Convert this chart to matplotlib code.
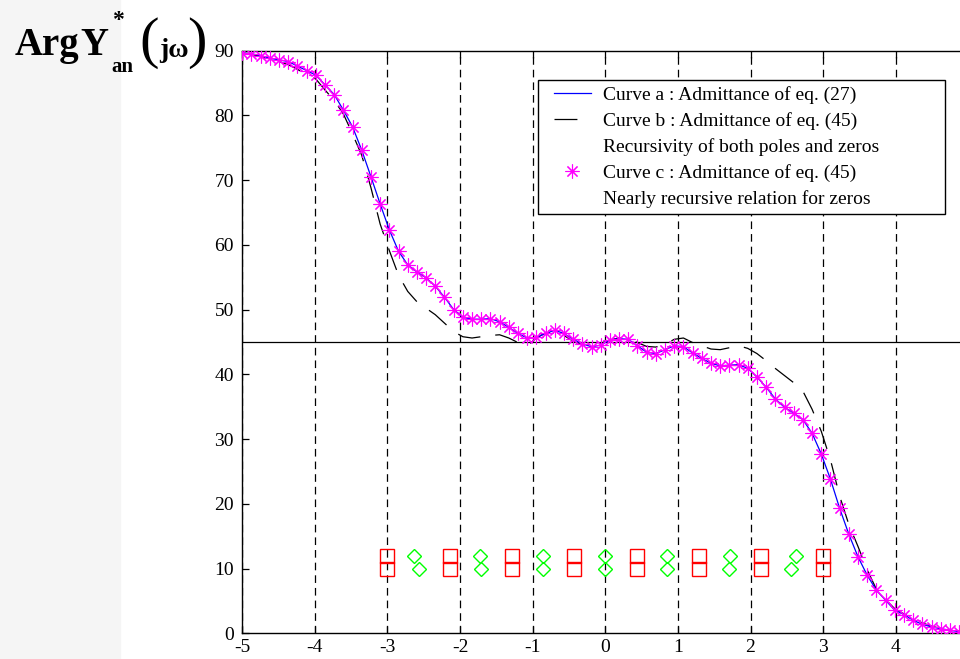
import numpy as np
import matplotlib
matplotlib.use("Agg")
import matplotlib.pyplot as plt
from matplotlib.lines import Line2D
from matplotlib.patches import Rectangle
from matplotlib.legend_handler import HandlerLine2D

plt.rcParams["font.family"] = ["Liberation Serif", "DejaVu Serif"]
plt.rcParams["lines.scale_dashes"] = False
plt.rcParams["axes.unicode_minus"] = False

# ---- data (80 samples from -5 to 5) ----
curve_a = [89.6, 89.5, 89.2, 88.8, 88.55, 88.3, 87.6, 86.9, 86.2, 84.7,
           83.2, 80.8, 78.2, 74.6, 70.5, 66.3, 62.3, 59.0, 56.9, 55.8,
           54.9, 53.6, 51.9, 50.0, 48.8, 48.5, 48.5, 48.6, 48.1, 47.25,
           46.3, 45.6, 45.7, 46.3, 46.8, 46.3, 45.4, 44.7, 44.25, 44.5,
           45.3, 45.5, 45.4, 44.4, 43.4, 43.2, 43.8, 44.4, 44.25, 43.3,
           42.45, 41.7, 41.3, 41.4, 41.5, 40.9, 39.6, 38.0, 36.2, 34.9,
           34.0, 33.0, 30.9, 27.7, 23.8, 19.3, 15.3, 11.8, 8.96, 6.65,
           5.1, 3.55, 2.9, 2.0, 1.4, 0.97, 0.72, 0.46, 0.26, 0.15]
curve_c = curve_a  # markers sit on curve a
curve_b = [89.6, 89.4, 89.1, 88.7, 88.3, 87.8, 87.1, 86.2, 85.6, 83.9,
           82.3, 80.2, 77.1, 73.8, 68.8, 63.2, 59.1, 55.3, 52.8, 51.2,
           50.2, 49.2, 47.9, 46.6, 45.8, 45.6, 45.8, 46.0, 46.1, 45.6,
           44.9, 44.4, 45.6, 46.4, 46.5, 46.0, 45.1, 44.5, 44.4, 44.8,
           45.3, 45.6, 45.5, 44.9, 44.3, 44.2, 44.6, 45.4, 45.6, 44.9,
           44.4, 43.9, 43.8, 44.1, 44.4, 44.0, 43.2, 42.1, 40.9, 39.8,
           38.7, 37.4, 34.6, 31.2, 26.8, 21.2, 16.8, 13.4, 9.8, 6.8,
           5.2, 3.8, 3.0, 2.3, 1.6, 1.1, 0.75, 0.5, 0.3, 0.2]
x_samples = np.linspace(-5, 5, len(curve_a))

poles_x = [-3.0, -2.14, -1.29, -0.43, 0.43, 1.29, 2.14, 3.0]
zeros_x_upper = [-2.63, -1.73, -0.86, 0.0, 0.85, 1.72, 2.63]
zeros_x_lower = [-2.56, -1.71, -0.86, 0.0, 0.85, 1.70, 2.56]
marker_y_low, marker_y_high = 10, 12
ref_level = 45

labels = ["Curve a : Admittance of eq. (27)",
          "Curve b : Admittance of eq. (45)",
          "Recursivity of both poles and zeros",
          "Curve c : Admittance of eq. (45)",
          "Nearly recursive relation for zeros"]

W, H = 960, 659
fig = plt.figure(figsize=(W / 100, H / 100), dpi=100)
fig.patches.append(Rectangle((0, 0), 120 / W, 1, transform=fig.transFigure,
                             color="#f5f5f5", zorder=0))

ax = fig.add_axes([242.3 / W, (H - 633.3) / H, 726 / W, 582.8 / H])

star = (8, 2, 0)
dash_b = (0, (16.5, 10.8))
ax.plot(x_samples, curve_a, color="#0000ff", lw=0.9, zorder=3)
ax.plot(x_samples, curve_b, color="k", lw=0.9, ls=dash_b, zorder=2)
ax.plot(x_samples, curve_c, ls="none", marker=star, ms=10, mew=0.8,
        color="#ff00ff", zorder=4)
ax.axhline(ref_level, color="k", lw=0.9, zorder=2)

ax.plot(poles_x, [marker_y_high] * len(poles_x), ls="none", marker="s", ms=9.6,
        mfc="none", mec="#ff0000", mew=1.0, zorder=3)
ax.plot(poles_x, [marker_y_low] * len(poles_x), ls="none", marker="s", ms=9.6,
        mfc="none", mec="#ff0000", mew=1.0, zorder=3)
ax.plot(zeros_x_upper, [marker_y_high] * len(zeros_x_upper), ls="none", marker="D",
        ms=7.2, mfc="none", mec="#00ff00", mew=1.0, zorder=3)
ax.plot(zeros_x_lower, [marker_y_low] * len(zeros_x_lower), ls="none", marker="D",
        ms=7.2, mfc="none", mec="#00ff00", mew=1.0, zorder=3)

ax.set_xlim(-5, 5)
ax.set_ylim(0, 90)
ax.set_xticks(range(-5, 5))
ax.set_yticks(range(0, 91, 10))
ax.xaxis.grid(True, color="k", lw=0.9, ls=(0, (5.5, 3.6)))
ax.set_axisbelow(True)
ax.tick_params(direction="in", length=5, width=0.9, labelsize=14, top=True, right=True)
ax.tick_params(axis="x", pad=4)
ax.tick_params(axis="y", pad=6)
for sp in ax.spines.values():
    sp.set_linewidth(1.0)

h_a = Line2D([], [], color="#0000ff", lw=0.9)
h_b = Line2D([], [], color="k", lw=0.9, ls=dash_b)
h_blank = Line2D([], [], ls="none")
h_c = Line2D([], [], ls="none", marker=star, ms=10, mew=0.8, color="#ff00ff")
leg_w = (945 - 538.3) / 726
leg_h = (215 - 80) / 582.8
leg_x = (538.3 - 242.3) / 726
leg_top = (633.3 - 80) / 582.8
leg = ax.legend([h_a, h_b, h_blank, h_c, h_blank], labels,
                loc="upper left", bbox_to_anchor=(leg_x, leg_top - leg_h, leg_w, leg_h),
                mode="expand", borderaxespad=0, fancybox=False, edgecolor="k",
                framealpha=1, fontsize=14, borderpad=0.3, labelspacing=0.42,
                handlelength=2.42, handletextpad=0.59,
                handler_map={Line2D: HandlerLine2D(xpad=0.49)})
leg.get_frame().set_linewidth(1.0)


def ftext(px, py, s, **kw):
    fig.text(px / W, 1 - py / H, s, va="baseline", ha="left", **kw)


ftext(15, 55, "Arg", fontsize=28, fontweight="bold")
ftext(80, 55, "Y", fontsize=28, fontweight="bold")
ftext(112, 26, "*", fontsize=17, fontweight="bold")
ftext(111, 72, "an", fontsize=15, fontweight="bold")
ftext(139, 57, "(", fontsize=42)
ftext(159, 57, "jω", fontsize=20, fontweight="bold")
ftext(187, 57, ")", fontsize=42)

fig.savefig("out.png", dpi=100)
